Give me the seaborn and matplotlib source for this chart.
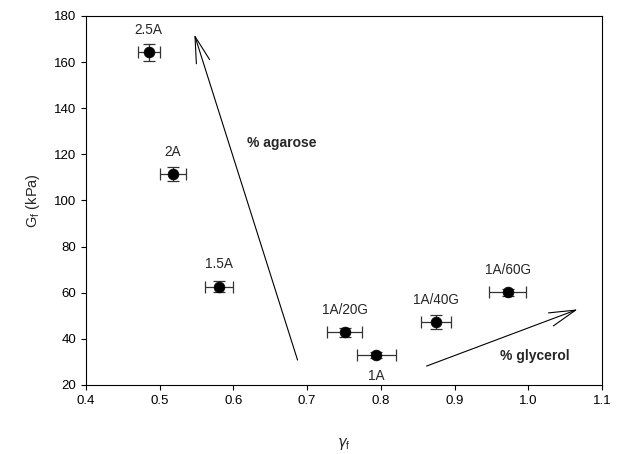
import matplotlib
matplotlib.use("Agg")
import matplotlib.pyplot as plt
import seaborn as sns
import pandas as pd

# values
labels = ["2.5A", "2A", "1.5A", "1A", "1A/20G", "1A/40G", "1A/60G"]
strain = [0.485, 0.518, 0.580, 0.794, 0.751, 0.875, 0.972]
modulus = [164.2, 111.4, 62.7, 33.0, 42.8, 47.3, 60.2]
strain_err = [0.015, 0.017, 0.019, 0.026, 0.024, 0.020, 0.025]
modulus_err = [3.6, 3.0, 2.5, 1.5, 2.0, 3.0, 1.5]
# label offsets in points (above, except 1A which sits below)
label_dy = [16, 16, 16, -15, 16, 16, 16]

x_ticks = [0.4, 0.5, 0.6, 0.7, 0.8, 0.9, 1.0, 1.1]
y_ticks = [20, 40, 60, 80, 100, 120, 140, 160, 180]


def main():
    df = pd.DataFrame({"label": labels, "strain": strain, "modulus": modulus,
                       "xerr": strain_err, "yerr": modulus_err, "dy": label_dy})

    sns.set_style("ticks")
    plt.rcParams["font.family"] = ["Liberation Sans", "DejaVu Sans"]

    fig = plt.figure(figsize=(6.2, 4.54), dpi=100)
    ax = fig.add_axes([0.1387, 0.152, 0.8323, 0.8128])

    ax.errorbar(df["strain"], df["modulus"], xerr=df["xerr"], yerr=df["yerr"],
                fmt="none", ecolor="#333333", elinewidth=0.9, capsize=4,
                capthick=0.9, zorder=2)
    sns.scatterplot(data=df, x="strain", y="modulus", color="black", s=60,
                    edgecolor="black", linewidth=0.5, ax=ax, zorder=3)

    for _, row in df.iterrows():
        ax.annotate(row["label"], (row["strain"], row["modulus"]),
                    xytext=(0, row["dy"]), textcoords="offset points",
                    ha="center", va="center", fontsize=9.8)

    # trend arrows
    arrow_kw = dict(arrowstyle="->,head_length=1.9,head_width=0.5",
                    lw=0.8, color="black", mutation_scale=10,
                    shrinkA=0, shrinkB=0)
    ax.annotate("", xy=(0.547, 172), xytext=(0.687, 30.8), arrowprops=arrow_kw)
    ax.annotate("", xy=(1.067, 52.8), xytext=(0.862, 28.2), arrowprops=arrow_kw)
    ax.text(0.6655, 124.8, "% agarose", fontsize=10, fontweight="bold",
            ha="center", va="center")
    ax.text(1.009, 32.6, "% glycerol", fontsize=10, fontweight="bold",
            ha="center", va="center")

    ax.set_xlim(0.4, 1.1)
    ax.set_ylim(20, 180)
    ax.set_xticks(x_ticks)
    ax.set_xticklabels([f"{t:.1f}" for t in x_ticks])
    ax.set_yticks(y_ticks)
    ax.tick_params(direction="out", length=3.5, width=0.8, labelsize=9.5,
                   top=False, right=False, colors="black")
    for sp in ax.spines.values():
        sp.set_visible(True)
        sp.set_linewidth(0.8)
        sp.set_color("black")

    ax.set_xlabel(r"$\gamma_\mathregular{f}$", fontsize=10.5, labelpad=21)
    ax.set_ylabel(r"G$_\mathregular{f}$ (kPa)", fontsize=10.5, labelpad=9)

    fig.savefig("out.png", dpi=100)
    plt.close(fig)


if __name__ == "__main__":
    main()
